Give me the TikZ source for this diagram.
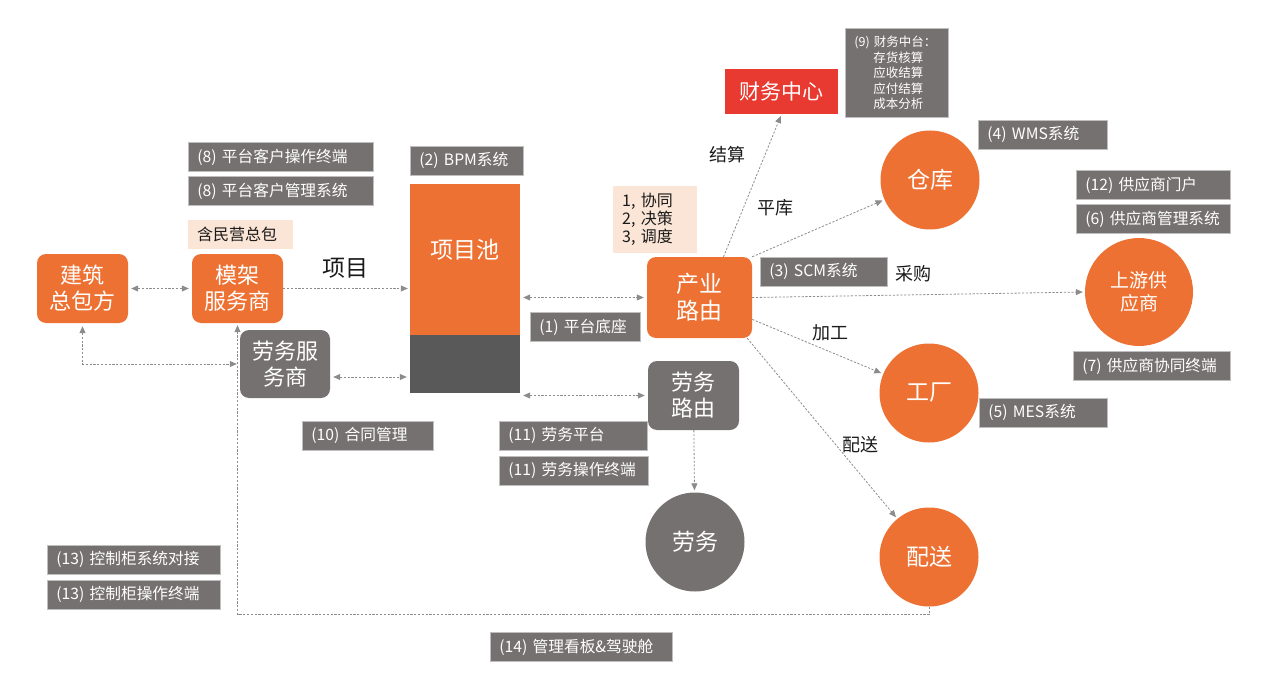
\documentclass[tikz,border=0pt]{standalone}
\usepackage{fontspec}
\setmainfont{Noto Sans CJK SC}
\usetikzlibrary{arrows.meta,calc}
\definecolor{orng}{HTML}{ED7132}
\definecolor{gry}{HTML}{767171}
\definecolor{dgry}{HTML}{595959}
\definecolor{peach}{HTML}{FBE5D6}
\definecolor{redc}{HTML}{E83A30}
\definecolor{lineg}{HTML}{8C8C8C}
\definecolor{tagedge}{HTML}{BFBFBF}
\definecolor{ink}{HTML}{1A1A1A}
\tikzset{
  unit/.style={fill=orng, rounded corners=9pt, text=white, align=center,
               font=\fontsize{22}{26}\selectfont, minimum width=91pt, minimum height=69pt, inner sep=1pt},
  gunit/.style={unit, fill=gry},
  hub/.style={circle, fill=orng, text=white, align=center, inner sep=0pt,
              font=\fontsize{23}{26}\selectfont, minimum size=99pt},
  pool/.style={rectangle, minimum width=110pt, inner sep=0pt, text=white,
               font=\fontsize{23}{26}\selectfont},
  fincenter/.style={fill=redc, text=white, font=\fontsize{21}{24}\selectfont,
                    minimum width=113pt, minimum height=45pt, inner sep=0pt},
  sysbox/.style={fill=gry, draw=tagedge, line width=0.8pt, text=white, anchor=north west,
                 font=\fontsize{15.7}{18}\selectfont, minimum height=29pt, inner xsep=9pt,
                 inner ysep=0pt, align=left, text width=#1},
  notebox/.style={fill=peach, text=ink, anchor=north west, align=left,
                  font=\fontsize{16}{19}\selectfont, inner xsep=9pt, inner ysep=0pt, text width=#1},
  flowlbl/.style={text=ink, font=\fontsize{18}{21}\selectfont, inner sep=0pt},
  % ---- dotted connectors ----
  arr/.style={-{Triangle[length=7pt,width=6pt]}, draw=lineg, line width=0.8pt,
              dash pattern=on 2.2pt off 1.6pt, shorten >=2pt},
  biarr/.style={{Triangle[length=7pt,width=6pt]}-{Triangle[length=7pt,width=6pt]}, draw=lineg,
                line width=0.8pt, dash pattern=on 2.2pt off 1.6pt, shorten >=3pt, shorten <=3pt},
}

\begin{document}
\begin{tikzpicture}[x=1pt,y=-1pt]
\useasboundingbox (0,0) rectangle (1268,679);
% ---- clients ----
\node[unit] (jz) at (82.5,288.5) {建筑\\总包方};
\node[unit] (mj) at (237.5,288.5) {模架\\服务商};
\node[gunit, minimum width=90pt, minimum height=68pt] (lwfw) at (285,364) {劳务服\\务商};
\node[notebox=87pt, minimum height=29pt] (mjnote) at (188,220) {含民营总包};
\node[sysbox=167pt] (op8a) at (188,142) {(8) 平台客户操作终端};
\node[sysbox=167pt] (op8b) at (188,176) {(8) 平台客户管理系统};
\node[flowlbl, font=\fontsize{23}{26}\selectfont] (xm) at (345,268) {项目};
% ---- project pool ----
\node[pool, fill=orng, minimum height=151pt, text depth=22pt] (pool) at (465,259.5) {项目池};
\node[pool, fill=dgry, minimum height=58pt] (poolbase) at (465,364) {};
\node[sysbox=95pt] (bpm) at (410,146) {(2) BPM系统};
\node[sysbox=92pt] (base) at (530,312) {(1) 平台底座};
\node[sysbox=113pt] (ctr) at (302,421) {(10) 合同管理};
% ---- routers ----
\node[unit, minimum width=105pt, minimum height=81pt, font=\fontsize{23}{27}\selectfont] (cyly) at (699.5,297.5) {产业\\路由};
\node[gunit] (lwly) at (693.5,395.5) {劳务\\路由};
\node[notebox=66pt, minimum height=67pt, font=\fontsize{16}{18}\selectfont] (cynote) at (613,186) {1, 协同\\2, 决策\\3, 调度};
\node[sysbox=130pt] (lw11a) at (499,421) {(11) 劳务平台};
\node[sysbox=131pt] (lw11b) at (499,456) {(11) 劳务操作终端};
\node[hub, fill=gry] (lw) at (695,542) {劳务};
% ---- supply side ----
\node[fincenter] (cw) at (781.5,91.5) {财务中心};
\node[sysbox=85pt, minimum height=89pt, font=\fontsize{12.5}{15.5}\selectfont] (fin9) at (845,28)
  {(9) 财务中台：\\\hspace*{19pt}存货核算\\\hspace*{19pt}应收结算\\\hspace*{19pt}应付结算\\\hspace*{19pt}成本分析};
\node[hub] (ck) at (930,180) {仓库};
\node[hub, minimum size=108pt, font=\fontsize{19}{23}\selectfont] (sup) at (1139,292) {上游供\\应商};
\node[hub] (gc) at (929,393) {工厂};
\node[hub] (ps) at (929,557) {配送};
\node[sysbox=111pt] (wms) at (978,120) {(4) WMS系统};
\node[sysbox=109pt] (scm) at (760,257) {(3) SCM系统};
\node[sysbox=136pt] (sup12) at (1076,170) {(12) 供应商门户};
\node[sysbox=136pt] (sup6) at (1076,204) {(6) 供应商管理系统};
\node[sysbox=139pt] (sup7) at (1073,351) {(7) 供应商协同终端};
\node[sysbox=110pt] (mes) at (979,398) {(5) MES系统};
% ---- cabinet / dashboard ----
\node[sysbox=155pt] (cab13a) at (47,545) {(13) 控制柜系统对接};
\node[sysbox=155pt] (cab13b) at (47,580) {(13) 控制柜操作终端};
\node[sysbox=164pt] (dash14) at (490,632) {(14) 管理看板\&驾驶舱};
% ---- flow labels ----
\node[flowlbl] (ljs) at (727,155) {结算};
\node[flowlbl] (lpk) at (775,208) {平库};
\node[flowlbl] (lcg) at (913,274) {采购};
\node[flowlbl] (ljg) at (830,333) {加工};
\node[flowlbl] (lps) at (860,445) {配送};
% ---- connectors ----
\draw[biarr] (jz.east) -- (mj.west);
\draw[arr] (mj.east) -- (mj.east -| pool.west);
\draw[biarr] ([yshift=-13pt]lwfw.east) -- ([yshift=-13pt]lwfw.east -| poolbase.west);
\draw[biarr] (jz.south) |- (lwfw.west);
\draw[arr] (ps.south) -- ++(0,8) -| (mj.south);
\draw[biarr] (pool.east |- cyly.west) -- (cyly.west);
\draw[biarr] (poolbase.east |- lwly.west) -- (lwly.west);
\draw[arr] (lwly) -- (lw);
\draw[arr] ([xshift=24pt]cyly.north) -- (cw.south);
\draw[arr] (cyly.north east) -- (ck);
\draw[arr] (cyly.east) -- (sup.west);
\draw[arr] (cyly) -- (gc);
\draw[arr] ([xshift=-5pt]cyly.south east) -- (ps);
\end{tikzpicture}
\end{document}
